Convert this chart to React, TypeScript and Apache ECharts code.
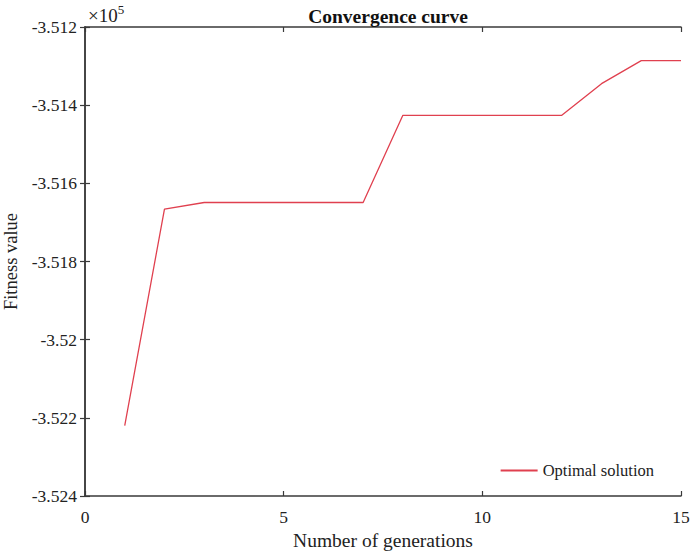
import React, { useEffect, useRef } from "react";
import * as echarts from "echarts";

const generations = [1, 2, 3, 4, 5, 6, 7, 8, 9, 10, 11, 12, 13, 14, 15];
const fitness = [
  -352220, -351666, -351649, -351649, -351649, -351649, -351649,
  -351426, -351426, -351426, -351426, -351426, -351345, -351286, -351286,
];
const seriesName = "Optimal solution";
const titleText = "Convergence curve";
const xName = "Number of generations";
const yName = "Fitness value";

const FONT = "'Liberation Serif', 'Times New Roman', serif";
const AX = "#3a3a3a";

export default function App() {
  const ref = useRef<HTMLDivElement>(null);
  useEffect(() => {
    if (!ref.current) return;
    const chart = echarts.init(ref.current, null, { renderer: "svg" });
    const fmtY = (v: number) => parseFloat((v / 1e5).toFixed(3)).toString();
    const axisLine = { show: true, lineStyle: { color: AX, width: 1.5 } };
    const axisTick = { show: true, inside: true, length: 5, lineStyle: { color: AX, width: 1.2 } };
    chart.setOption({
      animation: false,
      backgroundColor: "#ffffff",
      title: {
        text: titleText,
        left: 383,
        textAlign: "center",
        top: 1,
        textStyle: { fontFamily: FONT, fontSize: 19.5, fontWeight: "bold", color: "#111" },
      },
      legend: {
        right: 31,
        top: 457,
        itemWidth: 37,
        itemHeight: 2,
        itemGap: 8,
        icon: "rect",
        textStyle: { fontFamily: FONT, fontSize: 16.5, color: "#222" },
        data: [seriesName],
      },
      grid: { left: 85, right: 9, top: 27, bottom: 57, containLabel: false, outerBoundsMode: "none" },
      xAxis: [
        {
          type: "value",
          min: 0,
          max: 15,
          interval: 5,
          position: "bottom",
          name: xName,
          nameLocation: "middle",
          nameGap: 33,
          nameTextStyle: { fontFamily: FONT, fontSize: 19.5, color: "#222" },
          axisLine,
          axisTick,
          splitLine: { show: false },
          axisLabel: { fontFamily: FONT, fontSize: 17.5, color: "#222", margin: 12 },
        },
        {
          type: "value",
          min: 0,
          max: 15,
          interval: 5,
          position: "top",
          axisLine,
          axisTick,
          splitLine: { show: false },
          axisLabel: { show: false },
        },
      ],
      yAxis: [
        {
          type: "value",
          min: -352400,
          max: -351200,
          interval: 200,
          position: "left",
          name: yName,
          nameLocation: "middle",
          nameGap: 62,
          nameTextStyle: { fontFamily: FONT, fontSize: 18.5, color: "#222" },
          axisLine,
          axisTick,
          splitLine: { show: false },
          axisLabel: { fontFamily: FONT, fontSize: 17.5, color: "#222", margin: 8, formatter: fmtY },
        },
        {
          type: "value",
          min: -352400,
          max: -351200,
          interval: 200,
          position: "right",
          axisLine,
          axisTick,
          splitLine: { show: false },
          axisLabel: { show: false },
        },
      ],
      graphic: [
        {
          type: "text",
          left: 88,
          top: 3,
          style: {
            text: "{a|×10}{b|5}",
            rich: {
              a: { fontFamily: FONT, fontSize: 19, fill: "#222", verticalAlign: "bottom" },
              b: { fontFamily: FONT, fontSize: 13, fill: "#222", verticalAlign: "top", padding: [0, 0, 9, 0] },
            },
          },
        },
      ],
      series: [
        {
          name: seriesName,
          type: "line",
          xAxisIndex: 0,
          yAxisIndex: 0,
          data: generations.map((g, i) => [g, fitness[i]]),
          showSymbol: false,
          symbol: "none",
          lineStyle: { color: "#e0404f", width: 1.3 },
          itemStyle: { color: "#e0404f" },
        },
      ],
    });
    return () => chart.dispose();
  }, []);
  return <div ref={ref} style={{ width: 690, height: 553, position: "absolute", left: 0, top: 0 }} />;
}
